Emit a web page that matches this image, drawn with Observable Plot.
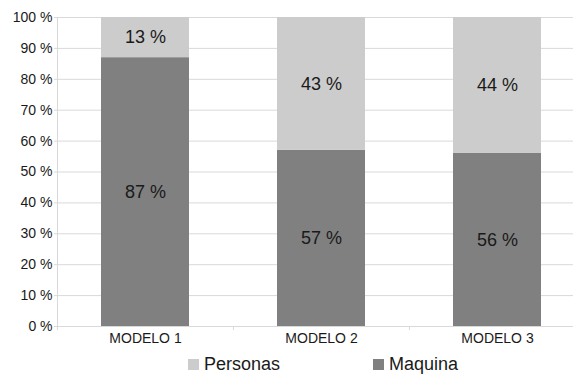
<!DOCTYPE html>
<html>
<head>
<meta charset="utf-8">
<script src="https://cdn.jsdelivr.net/npm/d3@7"></script>
<script src="https://cdn.jsdelivr.net/npm/@observablehq/plot@0.6"></script>
<style>
  html, body { margin: 0; padding: 0; background: #fff; overflow: hidden; }
  #chart svg { display: block; overflow: hidden; }
  .legend { position: relative; height: 27px; font-family: "Liberation Sans", Arial, sans-serif; font-size: 18px; color: #1a1a1a; }
  .item { position: absolute; top: 2px; display: flex; align-items: center; }
  .sw { width: 11px; height: 11px; margin-right: 5px; }
</style>
</head>
<body>
<div id="chart"></div>
<div class="legend" id="legend"></div>
<script>
const categories = ["MODELO 1", "MODELO 2", "MODELO 3"];
const series = ["Maquina", "Personas"];
const maquina = [87, 57, 56];
const personas = [13, 43, 44];
const yTicks = [0, 10, 20, 30, 40, 50, 60, 70, 80, 90, 100];
const colors = ["#808080", "#cccccc"];

const data = [];
categories.forEach((c, i) => {
  data.push({modelo: c, serie: "Maquina", value: maquina[i]});
  data.push({modelo: c, serie: "Personas", value: personas[i]});
});

const grid = "#d9d9d9";
const font = "Liberation Sans, Arial, sans-serif";

const chart = Plot.plot({
  width: 573,
  height: 352,
  marginLeft: 57,
  marginRight: -12,
  marginTop: 17,
  marginBottom: 26,
  style: {fontFamily: font, fontSize: "14px", color: "#1a1a1a", background: "#fff"},
  x: {domain: categories, paddingInner: 0.5, paddingOuter: 0.25, label: null},
  y: {domain: [0, 100], ticks: yTicks, label: null},
  color: {domain: series, range: colors},
  marks: [
    Plot.gridY(yTicks, {stroke: grid, strokeOpacity: 1}),
    Plot.frame({anchor: "left", stroke: grid}),
    Plot.axisY(yTicks, {tickSize: 3, tickPadding: 2, stroke: grid, tickFormat: d => d + " %", fill: "#1a1a1a", fontSize: 14}),
    Plot.axisX({tickSize: 0, tickPadding: 7, fill: "#1a1a1a", fontSize: 14}),
    Plot.axisX({tickSize: 4, text: null, stroke: grid, dx: -88}),
    Plot.barY(data, {x: "modelo", y: "value", fill: "serie", order: series}),
    Plot.text(data, Plot.stackY({x: "modelo", y: "value", z: "serie", order: series, text: d => d.value + " %", fontSize: 18, fill: "#1a1a1a"}))
  ]
});
document.getElementById("chart").appendChild(chart);

const legend = document.getElementById("legend");
const legendOrder = ["Personas", "Maquina"];
const legendLeft = [188, 373];
legendOrder.forEach((s, i) => {
  const item = document.createElement("div");
  item.className = "item";
  item.style.left = legendLeft[i] + "px";
  const sw = document.createElement("div");
  sw.className = "sw";
  sw.style.background = colors[series.indexOf(s)];
  const t = document.createElement("span");
  t.textContent = s;
  item.appendChild(sw);
  item.appendChild(t);
  legend.appendChild(item);
});
</script>
</body>
</html>
